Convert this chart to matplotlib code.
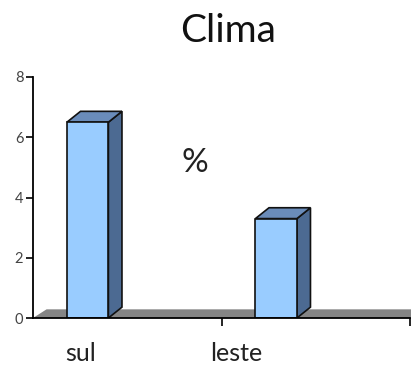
import matplotlib
matplotlib.use("Agg")
import matplotlib.pyplot as plt
from matplotlib.patches import Polygon, Rectangle

# Data
categories = ["sul", "leste"]
values = [6.5, 3.3]
y_ticks = [0, 2, 4, 6, 8]
title = "Clima"
unit_label = "%"

# Styling / geometry
FRONT = "#99CCFF"
TOP = "#6A8CBA"
SIDE = "#4C6A92"
EDGE = "#111111"
bar_offset = 0.18
bar_width = 0.22
depth_dx = 0.072
depth_dy = 0.36

plt.rcParams["font.family"] = ["Lato", "DejaVu Sans"]

fig = plt.figure(figsize=(4.11, 3.71), dpi=100)
W, H = 411, 371
ax = fig.add_axes([33 / W, 53 / H, 377 / W, 241 / H])
ax.set_xlim(0, len(categories))
ax.set_ylim(0, 8)

# Floor slab
xmax = len(categories) + 0.2
floor = Polygon([(0, 0), (xmax, 0), (xmax + depth_dx, depth_dy * 0.8),
                 (depth_dx, depth_dy * 0.8)], closed=True,
                facecolor="#858585", edgecolor="none", zorder=1, clip_on=False)
ax.add_patch(floor)

# 3D-looking bars
for i, v in enumerate(values):
    x0 = i + bar_offset
    x1 = x0 + bar_width
    side = Polygon([(x1, 0), (x1 + depth_dx, depth_dy), (x1 + depth_dx, v + depth_dy), (x1, v)],
                   closed=True, facecolor=SIDE, edgecolor=EDGE, lw=1.2, zorder=3)
    top = Polygon([(x0, v), (x1, v), (x1 + depth_dx, v + depth_dy), (x0 + depth_dx, v + depth_dy)],
                  closed=True, facecolor=TOP, edgecolor=EDGE, lw=1.2, zorder=3)
    front = Rectangle((x0, 0), bar_width, v, facecolor=FRONT, edgecolor=EDGE, lw=1.2, zorder=4)
    ax.add_patch(side)
    ax.add_patch(top)
    ax.add_patch(front)

# Axes styling
for s in ["top", "right"]:
    ax.spines[s].set_visible(False)
ax.spines["left"].set_linewidth(1.3)
ax.spines["bottom"].set_linewidth(1.3)
ax.spines["left"].set_zorder(5)
ax.spines["bottom"].set_zorder(5)

ax.set_yticks(y_ticks)
ax.set_yticklabels([str(t) for t in y_ticks], fontsize=10.5, color="#444444")
ax.tick_params(axis="y", direction="out", length=5, width=1.2, pad=2)

# Category labels (major, no marks) and separator marks (minor)
label_pos = [0.25, 1.08]
ax.set_xticks(label_pos)
ax.set_xticklabels(categories, fontsize=18, color="#222222")
ax.tick_params(axis="x", which="major", length=0, pad=17)
ax.set_xticks([1, 2], minor=True)
ax.tick_params(axis="x", which="minor", direction="out", length=6, width=1.2)

ax.text(0.86, 5.15, unit_label, fontsize=24, color="#222222", ha="center", va="center")
fig.text(228 / W, 1 - 31 / H, title, fontsize=28, color="#111111", ha="center", va="center")

fig.savefig("out.png", dpi=100)
